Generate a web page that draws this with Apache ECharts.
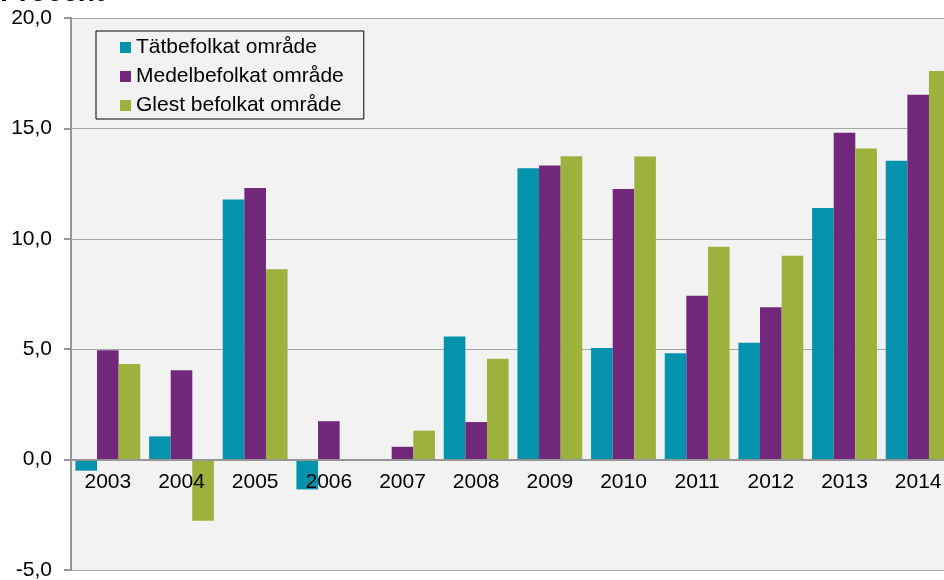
<!DOCTYPE html>
<html>
<head>
<meta charset="utf-8">
<script src="https://cdn.jsdelivr.net/npm/echarts@6/dist/echarts.min.js"></script>
<style>html,body{margin:0;padding:0;background:#fff;}#c{width:944px;height:580px;}</style>
</head>
<body>
<div id="c"></div>
<script>
const categories = ['2003','2004','2005','2006','2007','2008','2009','2010','2011','2012','2013','2014'];
const seriesNames = ['Tätbefolkat område','Medelbefolkat område','Glest befolkat område'];
const tat = [-0.5, 1.05, 11.78, -1.35, 0, 5.57, 13.2, 5.05, 4.82, 5.29, 11.39, 13.53];
const medel = [4.95, 4.05, 12.3, 1.74, 0.58, 1.7, 13.32, 12.25, 7.42, 6.9, 14.8, 16.52];
const glest = [4.33, -2.77, 8.62, 0, 1.31, 4.57, 13.74, 13.73, 9.64, 9.23, 14.09, 17.6];
const yTicks = {min: -5, max: 20, interval: 5};
const titleText = 'Procent';

const colors = ['#0592ad', '#71287a', '#9db23c'];
const font = 'Liberation Sans, Arial, sans-serif';
const chart = echarts.init(document.getElementById('c'), null, {renderer: 'canvas'});
const gridTop = 18, gridBottom = 10;
const plotH = 580 - gridTop - gridBottom;
const zeroOffset = plotH * (0 - yTicks.min) / (yTicks.max - yTicks.min);
const mk = (name, data, i) => ({
  name, type: 'bar', data,
  barGap: '0%', barCategoryGap: '12%',
  itemStyle: {color: colors[i]},
  emphasis: {disabled: true}
});
chart.setOption({
  animation: false,
  textStyle: {fontFamily: font},
  title: {text: titleText, left: 0, top: -21, padding: 0,
    textStyle: {fontFamily: font, fontSize: 28, fontWeight: 'bold', color: '#000'}},
  legend: {
    orient: 'vertical', left: 96, top: 31,
    padding: [6, 20, 3, 24],
    itemGap: 8, itemWidth: 11, itemHeight: 11, itemTextGap: 5,
    icon: 'rect', borderColor: '#000', borderWidth: 1,
    textStyle: {fontFamily: font, fontSize: 21, color: '#000'},
    data: seriesNames
  },
  grid: {left: 71, right: -11, top: gridTop, bottom: gridBottom, show: true, backgroundColor: '#f2f2f2', borderWidth: 0, containLabel: false, outerBoundsMode: 'none'},
  xAxis: {
    type: 'category', data: categories, z: 10,
    offset: -zeroOffset,
    axisLine: {onZero: false, lineStyle: {color: '#969696', width: 2}},
    axisTick: {show: false},
    axisLabel: {fontFamily: font, fontSize: 21, color: '#000', margin: 12}
  },
  yAxis: {
    type: 'value', min: yTicks.min, max: yTicks.max, interval: yTicks.interval,
    axisLine: {show: true, lineStyle: {color: '#969696', width: 2}},
    axisTick: {show: true, length: 7, lineStyle: {color: '#969696', width: 2}},
    splitLine: {show: true, lineStyle: {color: '#a6a6a6', width: 1}},
    axisLabel: {fontFamily: font, fontSize: 21, color: '#000', margin: 19,
      formatter: v => v.toFixed(1).replace('.', ',')}
  },
  series: [mk(seriesNames[0], tat, 0), mk(seriesNames[1], medel, 1), mk(seriesNames[2], glest, 2)]
});
</script>
</body>
</html>
